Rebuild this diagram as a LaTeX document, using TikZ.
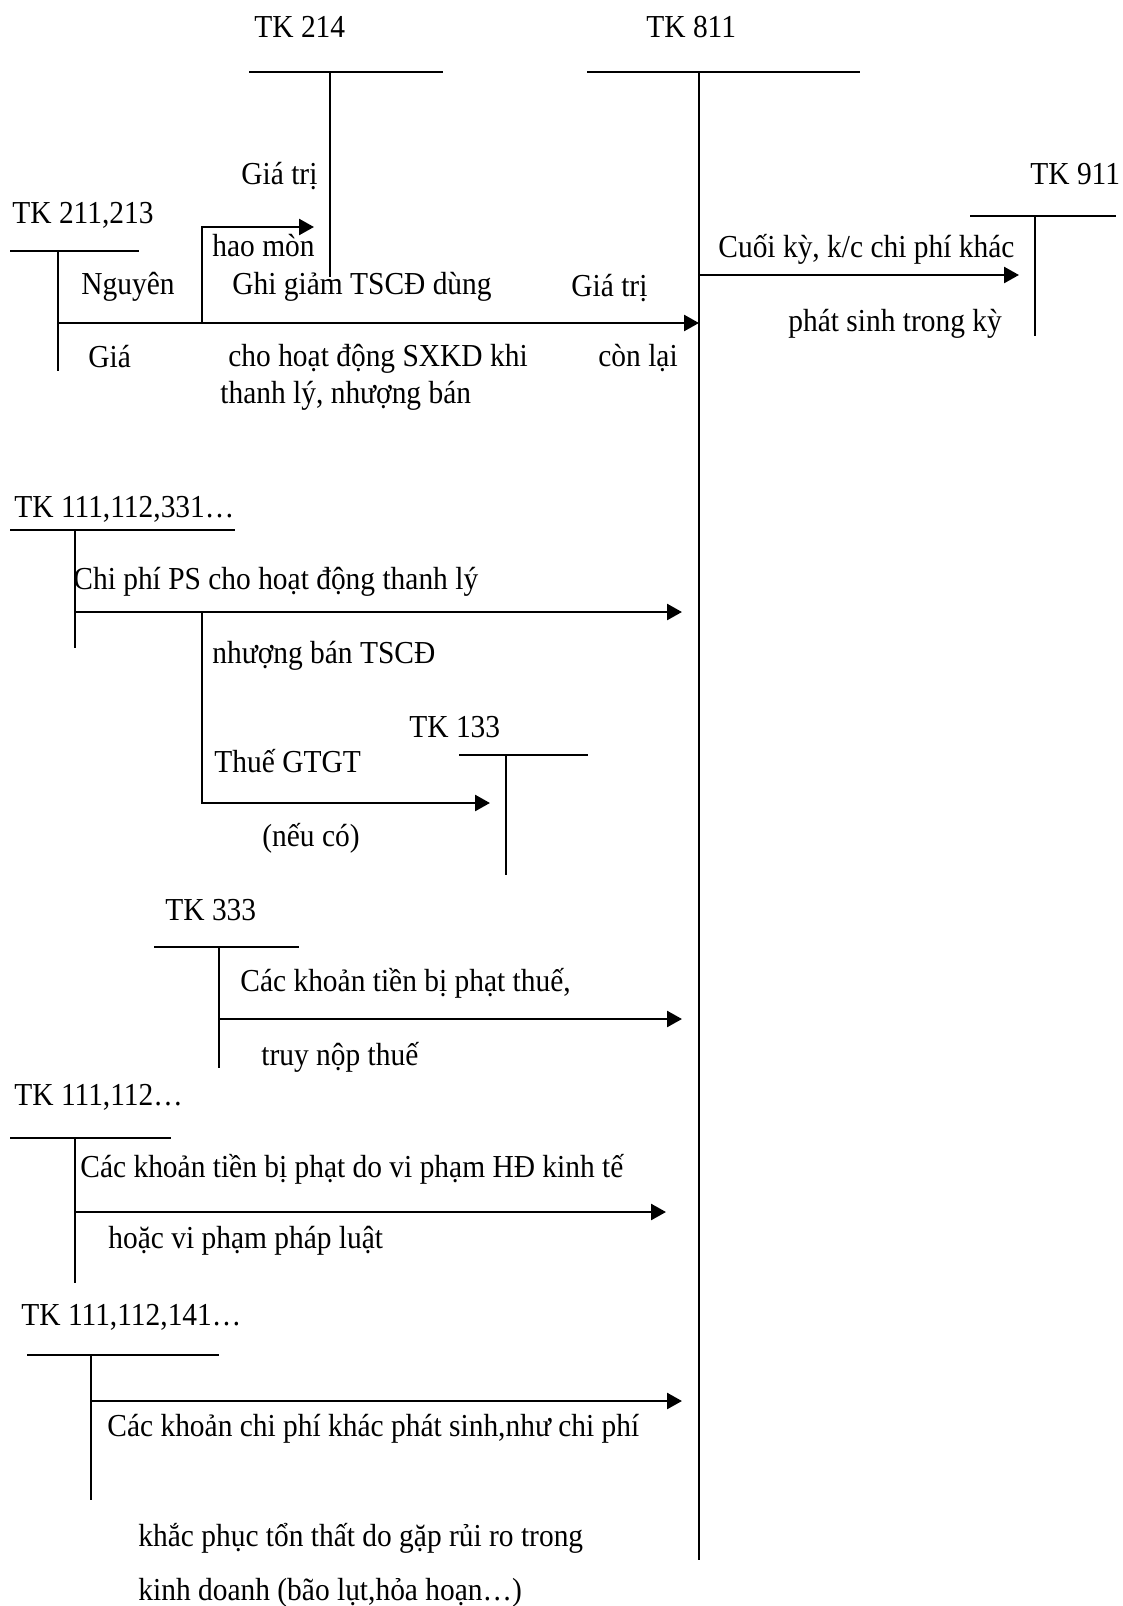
\documentclass[tikz,border=0pt]{standalone}
\usepackage{fontspec}
\setmainfont{Liberation Serif}[FakeStretch=0.92]
\usetikzlibrary{arrows.meta}
\begin{document}
\begin{tikzpicture}[x=0.5pt,y=-0.5pt,
  tline/.style={line width=1.3pt},
  flow/.style={line width=1.3pt,-{Triangle[length=7.5pt,width=8pt]}},
  lbl/.style={anchor=base west,inner sep=0pt,font=\fontsize{16pt}{18pt}\selectfont}]
\useasboundingbox (0,0) rectangle (1123,1606);
% ---------- T accounts ----------
% TK 214
\node[lbl] (n214) at (254,38) {TK 214};
\coordinate (h214L) at (249,72); \coordinate (h214R) at (443,72);
\coordinate (v214T) at (330,72); \coordinate (v214B) at (330,277);
\draw[tline] (h214L) -- (h214R); \draw[tline] (v214T) -- (v214B);
% TK 811
\node[lbl] (n811) at (646,38) {TK 811};
\coordinate (h811L) at (587,72); \coordinate (h811R) at (860,72);
\coordinate (v811T) at (699,72); \coordinate (v811B) at (699,1560);
\draw[tline] (h811L) -- (h811R); \draw[tline] (v811T) -- (v811B);
% TK 911
\node[lbl] (n911) at (1030,184) {TK 911};
\coordinate (h911L) at (970,216); \coordinate (h911R) at (1116,216);
\coordinate (v911T) at (1035,216); \coordinate (v911B) at (1035,336);
\draw[tline] (h911L) -- (h911R); \draw[tline] (v911T) -- (v911B);
% TK 211,213
\node[lbl] (n211) at (12,223) {TK 211,213};
\coordinate (h211L) at (10,251); \coordinate (h211R) at (139,251);
\coordinate (v211T) at (58,251); \coordinate (v211B) at (58,371);
\draw[tline] (h211L) -- (h211R); \draw[tline] (v211T) -- (v211B);
% TK 111,112,331...
\node[lbl] (n111a) at (14,517) {TK 111,112,331…};
\coordinate (h111aL) at (10,530); \coordinate (h111aR) at (235,530);
\coordinate (v111aT) at (75,530); \coordinate (v111aB) at (75,648);
\draw[tline] (h111aL) -- (h111aR); \draw[tline] (v111aT) -- (v111aB);
% TK 133
\node[lbl] (n133) at (409,737) {TK 133};
\coordinate (h133L) at (459,755); \coordinate (h133R) at (588,755);
\coordinate (v133T) at (506,755); \coordinate (v133B) at (506,875);
\draw[tline] (h133L) -- (h133R); \draw[tline] (v133T) -- (v133B);
% TK 333
\node[lbl] (n333) at (165,920) {TK 333};
\coordinate (h333L) at (154,947); \coordinate (h333R) at (299,947);
\coordinate (v333T) at (219,947); \coordinate (v333B) at (219,1068);
\draw[tline] (h333L) -- (h333R); \draw[tline] (v333T) -- (v333B);
% TK 111,112...
\node[lbl] (n111b) at (14,1105) {TK 111,112…};
\coordinate (h111bL) at (10,1138); \coordinate (h111bR) at (171,1138);
\coordinate (v111bT) at (75,1138); \coordinate (v111bB) at (75,1283);
\draw[tline] (h111bL) -- (h111bR); \draw[tline] (v111bT) -- (v111bB);
% TK 111,112,141...
\node[lbl] (n111c) at (21,1325) {TK 111,112,141…};
\coordinate (h111cL) at (27,1355); \coordinate (h111cR) at (219,1355);
\coordinate (v111cT) at (91,1355); \coordinate (v111cB) at (91,1500);
\draw[tline] (h111cL) -- (h111cR); \draw[tline] (v111cT) -- (v111cB);
% ---------- flows ----------
\coordinate (s211) at (58,323);   \coordinate (e811a) at (699,323);
\draw[flow] (s211) -- (e811a);
\coordinate (b214) at (202,323);  \coordinate (e214) at (314,227);
\draw[flow] (b214) |- (e214);
\coordinate (s811) at (699,275);  \coordinate (e911) at (1019,275);
\draw[flow] (s811) -- (e911);
\coordinate (s111a) at (75,612);  \coordinate (e811b) at (682,612);
\draw[flow] (s111a) -- (e811b);
\coordinate (b133) at (202,612);  \coordinate (e133) at (490,803);
\draw[flow] (b133) |- (e133);
\coordinate (s333) at (219,1019); \coordinate (e811c) at (682,1019);
\draw[flow] (s333) -- (e811c);
\coordinate (s111b) at (75,1212); \coordinate (e811d) at (666,1212);
\draw[flow] (s111b) -- (e811d);
\coordinate (s111c) at (91,1401); \coordinate (e811e) at (682,1401);
\draw[flow] (s111c) -- (e811e);
% ---------- labels ----------
\node[lbl] (l1) at (241,184) {Giá trị};
\node[lbl] (l2) at (212,256) {hao mòn};
\node[lbl] (l3) at (81,294) {Nguyên};
\node[lbl] (l4) at (232,294) {Ghi giảm TSCĐ dùng};
\node[lbl] (l5) at (571,296) {Giá trị};
\node[lbl] (l6) at (718,257) {Cuối kỳ, k/c chi phí khác};
\node[lbl] (l7) at (788,331) {phát sinh trong kỳ};
\node[lbl] (l8) at (88,367) {Giá};
\node[lbl] (l9) at (228,366) {cho hoạt động SXKD khi};
\node[lbl] (l10) at (598,366) {còn lại};
\node[lbl] (l11) at (220,403) {thanh lý, nhượng bán};
\node[lbl] (l12) at (73,589) {Chi phí PS cho hoạt động thanh lý};
\node[lbl] (l13) at (212,663) {nhượng bán TSCĐ};
\node[lbl] (l14) at (214,772) {Thuế GTGT};
\node[lbl] (l15) at (262,846) {(nếu có)};
\node[lbl] (l16) at (240,991) {Các khoản tiền bị phạt thuế,};
\node[lbl] (l17) at (261,1065) {truy nộp thuế};
\node[lbl] (l18) at (80,1177) {Các khoản tiền bị phạt do vi phạm HĐ kinh tế};
\node[lbl] (l19) at (108,1248) {hoặc vi phạm pháp luật};
\node[lbl] (l20) at (107,1436) {Các khoản chi phí khác phát sinh,như chi phí};
\node[lbl] (l21) at (138,1546) {khắc phục tổn thất do gặp rủi ro trong};
\node[lbl] (l22) at (138,1600) {kinh doanh (bão lụt,hỏa hoạn…)};
\end{tikzpicture}
\end{document}
